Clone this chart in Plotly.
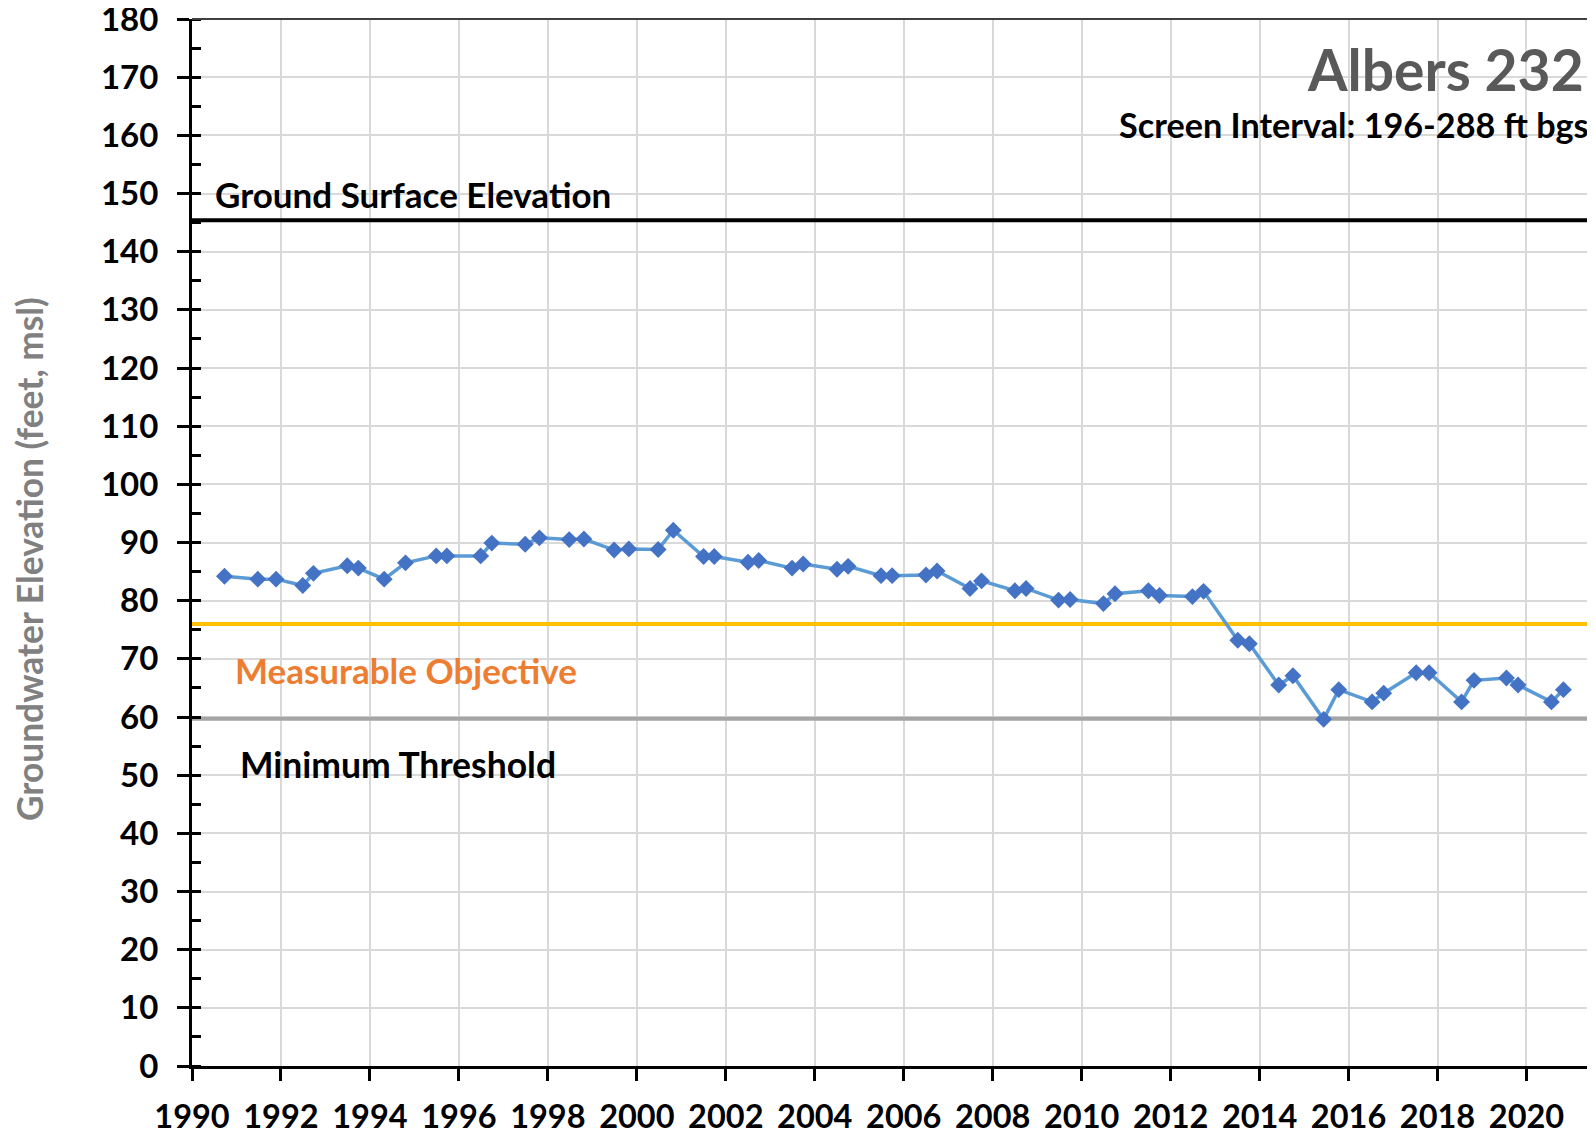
import plotly.graph_objects as go

# ---- data ----
years = [1990.73, 1991.48, 1991.89, 1992.49, 1992.73, 1993.49, 1993.74, 1994.32, 1994.80,
         1995.49, 1995.73, 1996.49, 1996.74, 1997.49, 1997.81, 1998.48, 1998.81, 1999.49,
         1999.82, 2000.48, 2000.82, 2001.50, 2001.74, 2002.50, 2002.74, 2003.49, 2003.74,
         2004.50, 2004.75, 2005.49, 2005.74, 2006.50, 2006.75, 2007.49, 2007.75, 2008.50,
         2008.75, 2009.48, 2009.74, 2010.49, 2010.75, 2011.50, 2011.75, 2012.49, 2012.74,
         2013.51, 2013.77, 2014.43, 2014.75, 2015.44, 2015.78, 2016.53, 2016.79, 2017.52,
         2017.81, 2018.54, 2018.82, 2019.55, 2019.81, 2020.56, 2020.83]
elevation = [84.2, 83.7, 83.7, 82.6, 84.7, 86.0, 85.6, 83.7, 86.5,
             87.7, 87.7, 87.7, 89.9, 89.7, 90.8, 90.5, 90.6, 88.7,
             88.9, 88.8, 92.1, 87.6, 87.6, 86.6, 86.9, 85.6, 86.3,
             85.4, 85.9, 84.3, 84.3, 84.4, 85.1, 82.1, 83.4, 81.7,
             82.1, 80.1, 80.2, 79.5, 81.2, 81.7, 80.9, 80.7, 81.6,
             73.2, 72.6, 65.5, 67.1, 59.6, 64.7, 62.6, 64.1, 67.6,
             67.6, 62.6, 66.3, 66.7, 65.5, 62.6, 64.7]

ground_surface = 145.4
measurable_objective = 76.0
minimum_threshold = 59.7

x_range = [1990, 2021.72]
y_range = [0, 180]
x_ticks = list(range(1990, 2021, 2))
y_ticks = list(range(0, 181, 10))

title_text = "Albers 232"
subtitle_text = "Screen Interval: 196-288 ft bgs"
y_title = "Groundwater Elevation (feet, msl)"

FONT = "Lato"

# page body has an 8px default margin, compensate in the figure margins
OFF = 8
L_MARGIN = 192 - OFF
T_MARGIN = 19 - OFF
FIG_W, FIG_H = 1595, 1134
B_MARGIN = FIG_H + OFF - 1066

fig = go.Figure()

# reference lines
fig.add_trace(go.Scatter(x=x_range, y=[ground_surface] * 2, mode="lines",
                         line=dict(color="#000000", width=4), hoverinfo="skip", showlegend=False))
fig.add_trace(go.Scatter(x=x_range, y=[measurable_objective] * 2, mode="lines",
                         line=dict(color="#FFC000", width=4), hoverinfo="skip", showlegend=False))
fig.add_trace(go.Scatter(x=x_range, y=[minimum_threshold] * 2, mode="lines",
                         line=dict(color="#A5A5A5", width=4), hoverinfo="skip", showlegend=False))

# groundwater elevations
fig.add_trace(go.Scatter(x=years, y=elevation, mode="lines+markers",
                         line=dict(color="#5B9BD5", width=3.5),
                         marker=dict(symbol="diamond", size=13, color="#4472C4",
                                     line=dict(width=0)),
                         showlegend=False))

plot_w = FIG_W - L_MARGIN


def px_to_paper(px):
    # px = screen x position in the final picture
    return (px - OFF - L_MARGIN) / plot_w


annotations = [
    dict(text="<b>Ground Surface Elevation</b>", x=px_to_paper(213), xref="paper",
         y=150, yref="y", xanchor="left", yanchor="middle", showarrow=False,
         font=dict(family=FONT, size=35, color="#000000")),
    dict(text="<b>Measurable Objective</b>", x=px_to_paper(233), xref="paper",
         y=68.1, yref="y", xanchor="left", yanchor="middle", showarrow=False,
         font=dict(family=FONT, size=35, color="#ED7D31")),
    dict(text="<b>Minimum Threshold</b>", x=px_to_paper(238), xref="paper",
         y=51.8, yref="y", xanchor="left", yanchor="middle", showarrow=False,
         font=dict(family=FONT, size=35.5, color="#000000")),
    dict(text="<b>" + title_text + "</b>", x=px_to_paper(1586), xref="paper",
         y=171.4, yref="y", xanchor="right", yanchor="middle", showarrow=False,
         font=dict(family=FONT, size=57, color="#595959")),
    dict(text="<b>" + subtitle_text + "</b>", x=px_to_paper(1591), xref="paper",
         y=161.8, yref="y", xanchor="right", yanchor="middle", showarrow=False,
         font=dict(family=FONT, size=34.2, color="#000000")),
    dict(text="<b>" + y_title + "</b>", x=px_to_paper(29), xref="paper",
         y=(1066 - 559) / 1047, yref="paper", xanchor="center", yanchor="middle",
         textangle=-90, showarrow=False,
         font=dict(family=FONT, size=35.3, color="#808080")),
]

fig.update_layout(
    width=FIG_W, height=FIG_H,
    margin=dict(l=L_MARGIN, r=0, t=T_MARGIN, b=B_MARGIN, pad=0),
    paper_bgcolor="white", plot_bgcolor="white",
    font=dict(family=FONT, color="#000000"),
    annotations=annotations,
    shapes=[dict(type="line", xref="paper", yref="paper", x0=0, x1=1, y0=1, y1=1,
                 line=dict(color="#404040", width=2))],
    showlegend=False,
)

fig.update_xaxes(
    range=x_range, tickvals=x_ticks, ticktext=[str(t) for t in x_ticks],
    showgrid=True, gridcolor="#D9D9D9", gridwidth=2,
    showline=True, linecolor="#000000", linewidth=3,
    ticks="outside", ticklen=12, tickwidth=2.5, tickcolor="#000000",
    tickfont=dict(family=FONT, size=32.5, color="#000000", weight="bold"),
    ticklabelstandoff=8, ticklabeloverflow="allow",
    zeroline=False, automargin=False,
)
fig.update_yaxes(
    range=y_range, tickvals=y_ticks, ticktext=[str(t) for t in y_ticks],
    showgrid=True, gridcolor="#D9D9D9", gridwidth=2,
    showline=True, linecolor="#000000", linewidth=3,
    ticks="outside", ticklen=12, tickwidth=2.5, tickcolor="#000000",
    tickfont=dict(family=FONT, size=33, color="#000000", weight="bold"),
    ticklabelstandoff=12, ticklabeloverflow="allow",
    minor=dict(ticks="inside", ticklen=9, tickwidth=2.5, tickcolor="#000000", dtick=5,
               showgrid=False),
    zeroline=False, automargin=False,
)

fig.write_html("out.html")
